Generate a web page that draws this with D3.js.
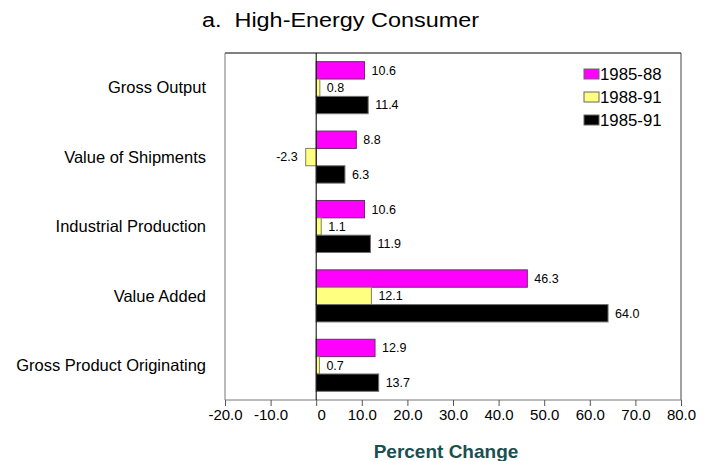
<!DOCTYPE html>
<html><head><meta charset="utf-8">
<script src="https://cdn.jsdelivr.net/npm/d3@7"></script>
<style>body{margin:0;background:#fff}svg{display:block}text{font-family:"Liberation Sans",Arial,sans-serif}</style>
</head><body><svg id="c" width="704" height="461"></svg>
<script>
const categories = ["Gross Output","Value of Shipments","Industrial Production","Value Added","Gross Product Originating"];
const seriesNames = ["1985-88","1988-91","1985-91"];
const s1985_88 = [10.6, 8.8, 10.6, 46.3, 12.9];
const s1988_91 = [0.8, -2.3, 1.1, 12.1, 0.7];
const s1985_91 = [11.4, 6.3, 11.9, 64.0, 13.7];
const xTicks = [-20,-10,0,10,20,30,40,50,60,70,80];
const tickLabels = ["-20.0","-10.0","0","10.0","20.0","30.0","40.0","50.0","60.0","70.0","80.0"];
const colors = ["#FF00FF","#FFFF80","#000000"];
const strokes = ["#6a2a6a","#808060","#707070"];

const series = [s1985_88, s1988_91, s1985_91];
const svg = d3.select("#c");
const L = 225, R = 681, T = 53, B = 400;
const x = d3.scaleLinear().domain([-20,80]).range([L,R]);
const y0 = d3.scaleBand().domain(categories).range([T,B]).paddingInner(0.25).paddingOuter(0.125);
const y1 = d3.scaleBand().domain(seriesNames).range([0,y0.bandwidth()]);
const fmt = d3.formatLocale({decimal:".",thousands:",",grouping:[3],currency:["",""],minus:"-"}).format(".1f");

svg.append("text").attr("x",202).attr("y",27).attr("xml:space","preserve")
  .attr("textLength",277).attr("lengthAdjust","spacingAndGlyphs")
  .style("font-size","20px").attr("fill","#000").text("a.  High-Energy Consumer");

// frame
svg.append("line").attr("x1",L).attr("x2",R).attr("y1",T).attr("y2",T).attr("stroke","#000");
svg.append("line").attr("x1",R).attr("x2",R).attr("y1",T).attr("y2",B).attr("stroke","#444");
svg.append("line").attr("x1",L).attr("x2",L).attr("y1",T).attr("y2",B).attr("stroke","#777");

// x axis
const ax = svg.append("g").attr("transform",`translate(0,${B})`)
  .call(d3.axisBottom(x).tickValues(xTicks).tickSize(6).tickFormat((d,i)=>tickLabels[i]));
ax.select(".domain").attr("stroke","#777").attr("d",`M${L},0H${R}`);
ax.selectAll(".tick line").attr("stroke","#555");
ax.selectAll(".tick text").style("font-size","15px").attr("fill","#000").attr("y",9)
  .attr("dx",d=>d===0?5:0)
  .attr("font-family","Liberation Sans, Arial, sans-serif");

svg.append("text").attr("x",446).attr("y",458).attr("text-anchor","middle")
  .style("font-size","19px").style("font-weight","bold").attr("fill","#1a5050").text("Percent Change");

// category labels
svg.append("g").selectAll("text").data(categories).join("text")
  .attr("x",206).attr("y",d=>y0(d)+y0.bandwidth()/2).attr("dy","0.35em")
  .attr("text-anchor","end").style("font-size","16.5px").attr("fill","#000").text(d=>d);

// bars
const g = svg.append("g");
categories.forEach((c,ci)=>{
  series.forEach((s,si)=>{
    const v = s[ci];
    const yy = y0(c)+y1(seriesNames[si]);
    const h = y1.bandwidth();
    g.append("rect").attr("x",Math.min(x(0),x(v))).attr("y",yy)
      .attr("width",Math.abs(x(v)-x(0))).attr("height",h)
      .attr("fill",colors[si]).attr("stroke",strokes[si]).attr("stroke-width",1);
    g.append("text").attr("x", v>=0 ? x(v)+7 : x(v)-8).attr("y",yy+h/2).attr("dy","0.35em")
      .attr("text-anchor", v>=0 ? "start":"end").style("font-size","12.5px").attr("fill","#000")
      .text(fmt(v));
  });
});

// zero line
svg.append("line").attr("x1",x(0)).attr("x2",x(0)).attr("y1",T).attr("y2",B).attr("stroke","#000");

// legend
const lg = svg.append("g");
seriesNames.forEach((n,i)=>{
  const ly = 74 + i*23;
  lg.append("rect").attr("x",584).attr("y",ly-5).attr("width",15).attr("height",10)
    .attr("fill",colors[i]).attr("stroke","#666");
  lg.append("text").attr("x",600).attr("y",ly).attr("dy","0.35em").style("font-size","16.8px")
    .attr("fill","#000").text(n);
});
</script></body></html>
